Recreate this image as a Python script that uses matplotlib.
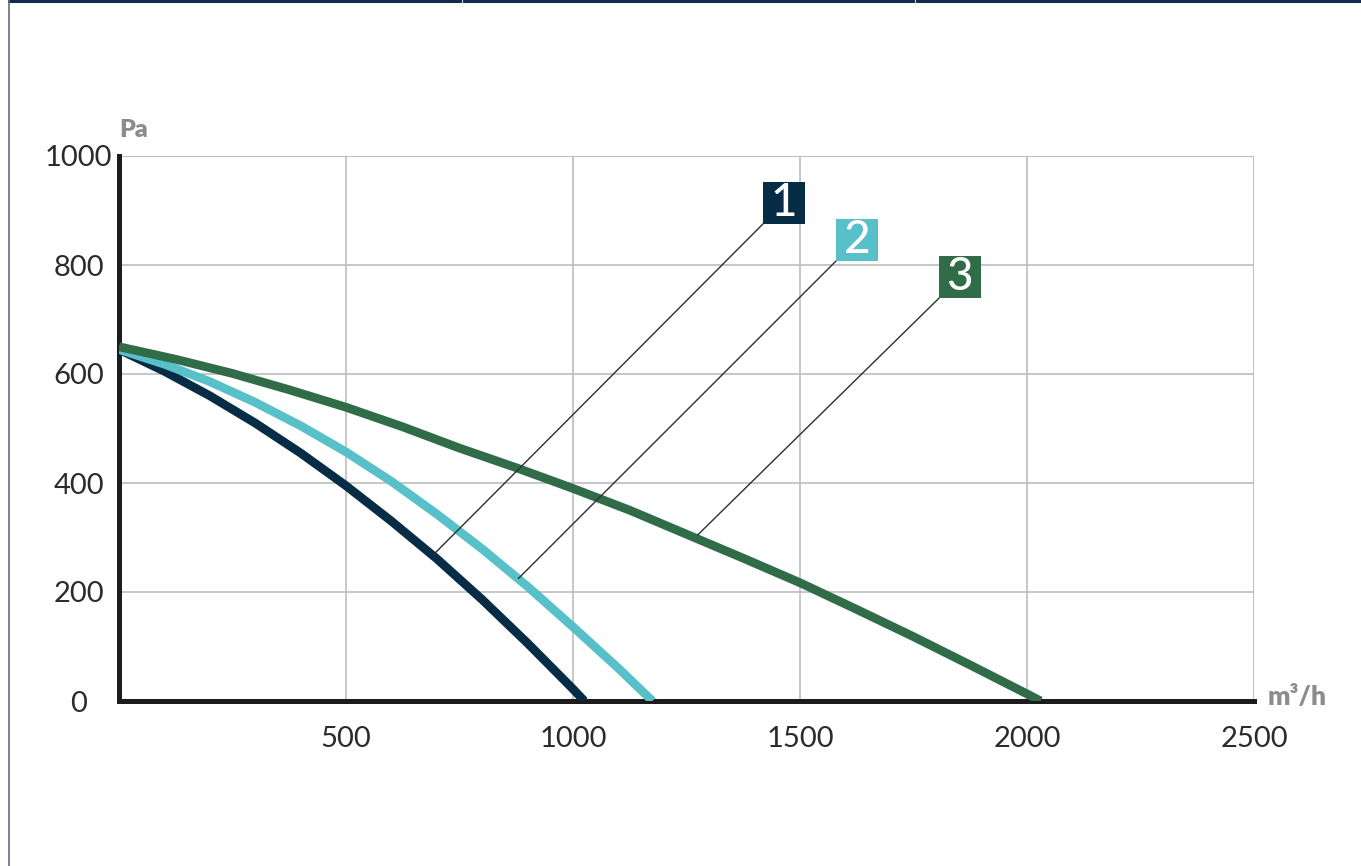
import matplotlib
matplotlib.use("Agg")
import matplotlib.pyplot as plt
from matplotlib.patches import Rectangle
from matplotlib.lines import Line2D

plt.rcParams['font.family'] = ['Lato', 'DejaVu Sans']

# Fan curves: airflow (m³/h) vs static pressure (Pa)
flow_1 = [0, 100, 200, 300, 400, 500, 600, 700, 800, 900, 1000, 1025]
pres_1 = [645, 605, 560, 510, 455, 395, 330, 261, 186, 106, 22, 0]

flow_2 = [0, 100, 200, 300, 400, 500, 600, 700, 800, 900, 1000, 1100, 1175]
pres_2 = [645, 618, 586, 548, 505, 457, 403, 343, 279, 210, 136, 60, 0]

flow_3 = [0, 125, 250, 375, 500, 625, 750, 875, 1000, 1125, 1250, 1375, 1500,
          1625, 1750, 1875, 2000, 2030]
pres_3 = [650, 627, 601, 571, 539, 503, 464, 428, 390, 350, 306, 262, 217,
          168, 118, 66, 13, 0]

series_labels = ["1", "2", "3"]
series_colors = ["#062d45", "#58c0c9", "#316c49"]

x_ticks = [500, 1000, 1500, 2000, 2500]
y_ticks = [0, 200, 400, 600, 800, 1000]

W, H = 1361, 866
fig = plt.figure(figsize=(W / 100, H / 100), dpi=100)
fig.patch.set_facecolor("white")

# page frame: dark band on top, thin line on the left
fig.add_artist(Rectangle((8 / W, 1 - 3 / H), 1 - 8 / W, 3 / H, transform=fig.transFigure,
                         facecolor="#0f2d4a", edgecolor="none"))
for sx in (462, 915):
    fig.add_artist(Line2D([sx / W, sx / W], [1 - 3 / H, 1], transform=fig.transFigure,
                          color="#c9d2dc", lw=0.8))
fig.add_artist(Line2D([8.5 / W, 8.5 / W], [0, 1], transform=fig.transFigure,
                      color="#5d7088", lw=1.2))

x0, x1, y0, y1 = 119, 1254, 701, 156
ax = fig.add_axes([x0 / W, (H - y0) / H, (x1 - x0) / W, (y0 - y1) / H])
ax.set_xlim(0, 2500)
ax.set_ylim(0, 1000)

ax.set_xticks(x_ticks)
ax.set_yticks(y_ticks)
ax.set_xticklabels([str(v) for v in x_ticks])
ax.set_yticklabels([str(v) for v in y_ticks])
ax.grid(True, color="#bdbdbd", lw=1.2)
ax.set_axisbelow(True)

for side in ("top", "right"):
    ax.spines[side].set_visible(False)
for side in ("left", "bottom"):
    ax.spines[side].set_color("#1c1c1c")
    ax.spines[side].set_linewidth(3.6)
    ax.spines[side].set_capstyle("projecting")

ax.tick_params(axis="both", length=0, labelsize=21, labelcolor="#2b2b2b")
ax.tick_params(axis="y", pad=29)
ax.tick_params(axis="x", pad=18)
for lab in ax.get_yticklabels():
    lab.set_horizontalalignment("center")

# vertical gridline at the right edge and horizontal one at the top
ax.axvline(2500, color="#bdbdbd", lw=1.2, zorder=0.5)
ax.axhline(1000, color="#bdbdbd", lw=1.2, zorder=0.5)

curves = [(flow_1, pres_1), (flow_2, pres_2), (flow_3, pres_3)]
for (fx, py), c in zip(curves, series_colors):
    ax.plot(fx, py, color=c, lw=6.3, solid_capstyle="butt", solid_joinstyle="round", zorder=3)

# numbered markers with leader lines
boxes = [  # (left, bottom) of box, leader end on curve
    ((1418, 875), (692, 268)),
    ((1579, 807), (880, 225)),
    ((1806, 739), (1275, 305)),
]
bw, bh = 92, 77
for (corner, tip), lab, c in zip(boxes, series_labels, series_colors):
    ax.plot([corner[0], tip[0]], [corner[1], tip[1]], color="#2e2e2e", lw=1.0, zorder=4)
    ax.add_patch(Rectangle(corner, bw, bh, facecolor=c, edgecolor="none", zorder=5,
                           clip_on=False))
    ax.text(corner[0] + bw / 2, corner[1] + bh / 2, lab, color="white", fontsize=33,
            fontweight="medium", ha="center", va="center", zorder=6)

# axis units
fig.text(119 / W, 1 - 130 / H, "Pa", fontsize=18, fontweight="heavy", color="#8c8c8c",
         ha="left", va="center")
fig.text(1268 / W, 1 - 697 / H, "m³/h", fontsize=19, fontweight="heavy", color="#8c8c8c",
         ha="left", va="center")

fig.savefig("out.png", dpi=100, facecolor="white")
